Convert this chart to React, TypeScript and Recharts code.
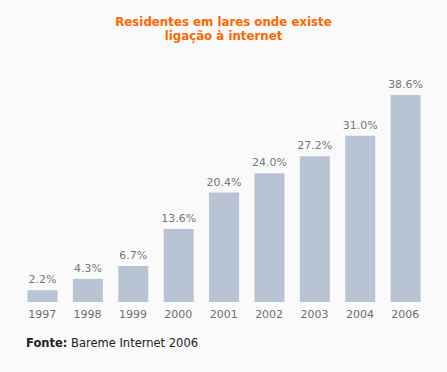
import React from "react";
import { BarChart, Bar, XAxis, YAxis, LabelList } from "recharts";

const years = ["1997", "1998", "1999", "2000", "2001", "2002", "2003", "2004", "2006"];
const values = [2.2, 4.3, 6.7, 13.6, 20.4, 24.0, 27.2, 31.0, 38.6];
const titleLines = ["Residentes em lares onde existe", "ligação à internet"];

const data = years.map((y, i) => ({ year: y, value: values[i] }));
const font = "'DejaVu Sans', Verdana, sans-serif";

export default function App() {
  return (
    <div style={{ position: "absolute", left: 0, top: 0, width: 447, height: 372, background: "#fafafa", fontFamily: font }}>
      <div style={{ position: "absolute", left: 0, top: 15, width: 447, textAlign: "center", color: "#ff6600", fontWeight: "bold", fontSize: 11.8, lineHeight: "14px" }}>
        {titleLines.map((t) => (
          <div key={t}>{t}</div>
        ))}
      </div>
      <BarChart width={447} height={372} data={data} margin={{ top: 95, right: 19, bottom: 40, left: 19.5 }}>
        <YAxis hide domain={[0, "dataMax"]} />
        <XAxis
          dataKey="year"
          height={30}
          axisLine={false}
          tickLine={false}
          tickSize={6}
          tickMargin={2}
          interval={0}
          tick={{ fill: "#6e6e6e", fontSize: 11, fontFamily: font }}
        />
        <Bar dataKey="value" fill="#b8c4d3" barSize={30} isAnimationActive={false}>
          <LabelList
            dataKey="value"
            position="top"
            offset={7}
            formatter={(v: number) => v.toFixed(1) + "%"}
            style={{ fill: "#777777", fontSize: 11, fontFamily: font }}
          />
        </Bar>
      </BarChart>
      <div style={{ position: "absolute", left: 26, top: 336, fontSize: 11.5, color: "#222", lineHeight: "14px" }}>
        <b>Fonte:</b> Bareme Internet 2006
      </div>
    </div>
  );
}
